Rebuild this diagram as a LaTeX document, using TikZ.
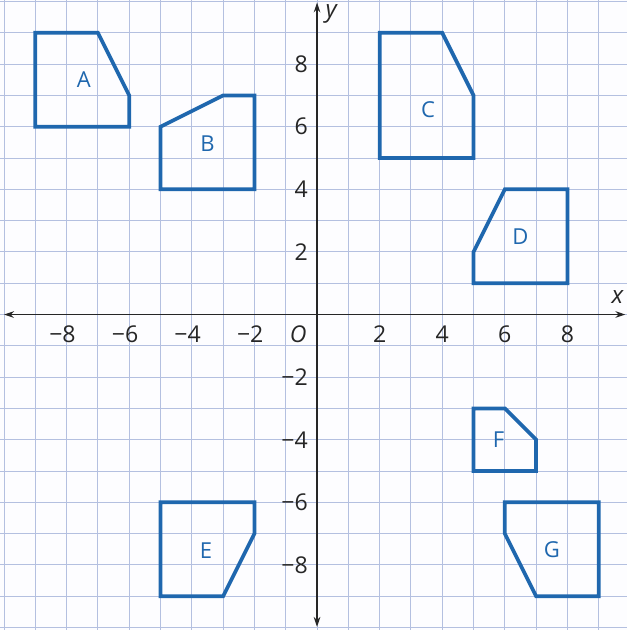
\documentclass[tikz,border=0pt]{standalone}
\usepackage{fontspec}
\setmainfont{Open Sans}
\usetikzlibrary{arrows.meta}
\definecolor{gridc}{HTML}{B4C0E0}
\definecolor{shapec}{HTML}{1F67AE}
\definecolor{bgc}{HTML}{FDFDFF}
\tikzset{
  gridline/.style={draw=gridc, line width=0.9pt},
  axisline/.style={draw=black!85, line width=1.3pt, {Stealth[length=9pt,width=6pt]}-{Stealth[length=9pt,width=6pt]}},
  fig/.style={draw=shapec, line width=3.4pt, line join=miter},
  tick/.style={font=\fontsize{21}{21}\selectfont, text=black!85, inner sep=1pt},
  letter/.style={font=\fontsize{20}{20}\selectfont, text=shapec, inner sep=0pt},
}
\begin{document}
\begin{tikzpicture}[x=1cm,y=1cm]
\useasboundingbox (-10.13,-10.08) rectangle (9.90,10.05);
\fill[bgc] (-10.13,-10.08) rectangle (9.90,10.05);
\foreach \i in {-10,...,9} \draw[gridline] (\i,-10.08) -- (\i,10.05);
\foreach \j in {-10,...,10} \draw[gridline] (-10.13,\j) -- (9.90,\j);
% axes
\coordinate (xl) at (-10.0,0);
\coordinate (xr) at (9.85,0);
\coordinate (yb) at (0,-9.98);
\coordinate (yt) at (0,9.97);
\draw[axisline] (xl) -- (xr);
\draw[axisline] (yb) -- (yt);
\node[font=\fontsize{22}{22}\selectfont\itshape, text=black!85, inner sep=0pt] (xlab) at (9.6,0.55) {x};
\node[font=\fontsize{22}{22}\selectfont\itshape, text=black!85, inner sep=0pt] (ylab) at (0.45,9.6) {y};
\node[tick, font=\fontsize{21}{21}\selectfont\itshape] (orig) at (-0.6,-0.62) {O};
% x tick labels
\foreach \v in {-8,-6,-4,-2} \node[tick, anchor=east] (xt\v) at (\v+0.33,-0.62) {−\the\numexpr-\v\relax};
\foreach \v in {2,4,6,8} \node[tick] (xt\v) at (\v,-0.62) {\v};
% y tick labels
\foreach \v in {2,4,6,8} \node[tick, anchor=east] (yt\v) at (-0.25,\v) {\v};
\foreach \v in {-2,-4,-6,-8} \node[tick, anchor=east] (yt\v) at (-0.25,\v) {−\the\numexpr-\v\relax};
% figures
\draw[fig] (-9,9) -- (-7,9) -- (-6,7) -- (-6,6) -- (-9,6) -- cycle;
\node[letter] (A) at (-7.45,7.5) {A};
\draw[fig] (-5,6) -- (-3,7) -- (-2,7) -- (-2,4) -- (-5,4) -- cycle;
\node[letter] (B) at (-3.5,5.45) {B};
\draw[fig] (2,9) -- (4,9) -- (5,7) -- (5,5) -- (2,5) -- cycle;
\node[letter] (C) at (3.55,6.55) {C};
\draw[fig] (5,2) -- (6,4) -- (8,4) -- (8,1) -- (5,1) -- cycle;
\node[letter] (D) at (6.5,2.5) {D};
\draw[fig] (-5,-6) -- (-2,-6) -- (-2,-7) -- (-3,-9) -- (-5,-9) -- cycle;
\node[letter] (E) at (-3.55,-7.55) {E};
\draw[fig] (5,-3) -- (6,-3) -- (7,-4) -- (7,-5) -- (5,-5) -- cycle;
\node[letter] (F) at (5.8,-4.0) {F};
\draw[fig] (6,-6) -- (9,-6) -- (9,-9) -- (7,-9) -- (6,-7) -- cycle;
\node[letter] (G) at (7.5,-7.5) {G};
\end{tikzpicture}
\end{document}
